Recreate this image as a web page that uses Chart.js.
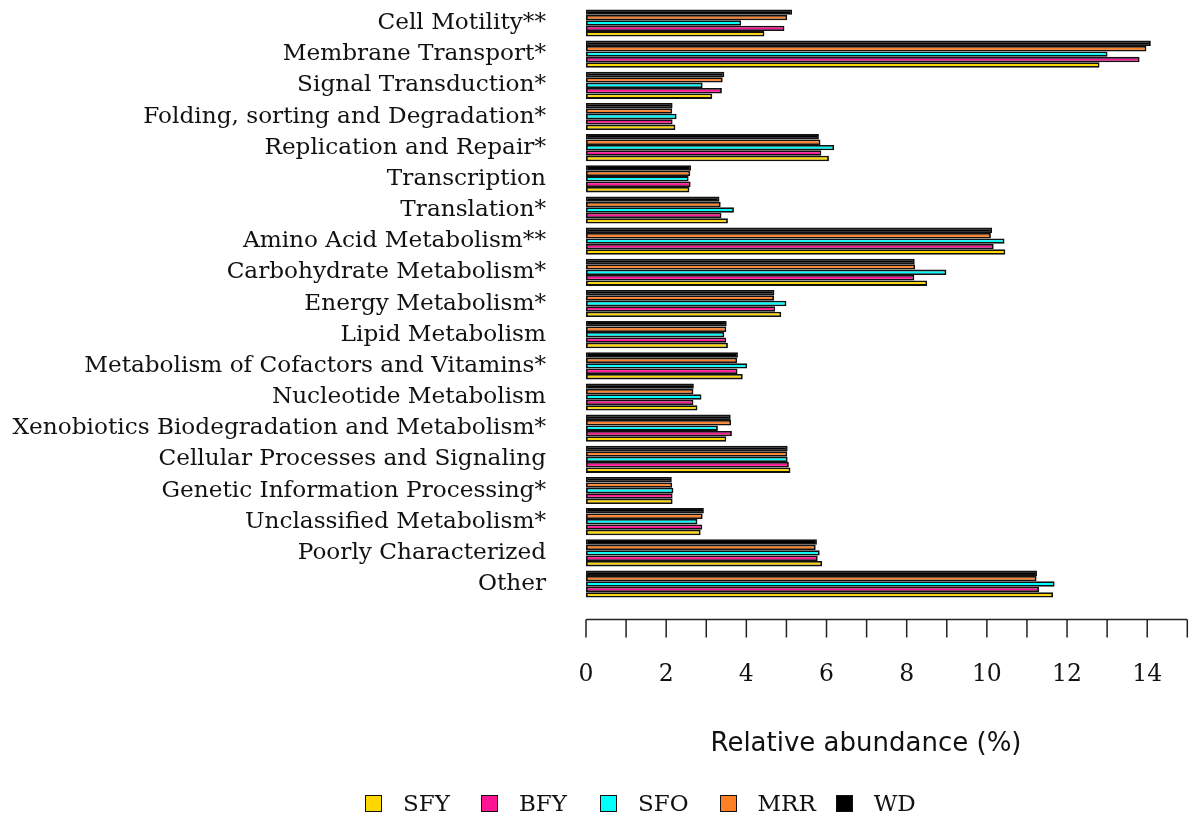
<!DOCTYPE html>
<html>
<head>
<meta charset="utf-8">
<script src="https://cdn.jsdelivr.net/npm/chart.js@4.4.1/dist/chart.umd.min.js"></script>
<style>
  html, body { margin: 0; padding: 0; background: #ffffff; }
  #wrap { position: relative; width: 1195px; height: 818px; }
  #chart { position: absolute; left: 0; top: 0; }
  #legend {
    position: absolute; left: 365px; top: 790px; height: 26px;
    display: flex; align-items: center;
    font-family: "DejaVu Serif", serif; font-size: 23px; color: #111;
  }
  .item { display: flex; align-items: center; margin-right: 31px; }
  .item:nth-child(2) { margin-right: 33px; }
  .item:nth-child(4) { margin-right: 20px; }
  .box { width: 15px; height: 15px; border: 1.5px solid #111; margin-right: 21px; }
</style>
</head>
<body>
<div id="wrap">
  <canvas id="chart" width="1195" height="818"></canvas>
  <div id="legend"></div>
</div>
<script>
// Functional categories, top to bottom
const categories = [
  'Cell Motility**',
  'Membrane Transport*',
  'Signal Transduction*',
  'Folding, sorting and Degradation*',
  'Replication and Repair*',
  'Transcription',
  'Translation*',
  'Amino Acid Metabolism**',
  'Carbohydrate Metabolism*',
  'Energy Metabolism*',
  'Lipid Metabolism',
  'Metabolism of Cofactors and Vitamins*',
  'Nucleotide Metabolism',
  'Xenobiotics Biodegradation and Metabolism*',
  'Cellular Processes and Signaling',
  'Genetic Information Processing*',
  'Unclassified Metabolism*',
  'Poorly Characterized',
  'Other'
];

// Relative abundance (%) per sample group
const SFY = [4.45, 12.81, 3.15, 2.23, 6.06, 2.58, 3.54, 10.46, 8.51, 4.87, 3.54, 3.91, 2.78, 3.50, 5.10, 2.16, 2.86, 5.89, 11.65];
const BFY = [4.95, 13.81, 3.39, 2.16, 5.87, 2.61, 3.38, 10.17, 8.19, 4.72, 3.50, 3.78, 2.68, 3.64, 5.06, 2.16, 2.90, 5.78, 11.30];
const SFO = [3.87, 13.01, 2.91, 2.26, 6.19, 2.56, 3.69, 10.44, 8.99, 5.00, 3.45, 4.02, 2.88, 3.29, 5.03, 2.18, 2.78, 5.83, 11.69];
const MRR = [5.02, 13.98, 3.41, 2.15, 5.85, 2.60, 3.36, 10.10, 8.21, 4.69, 3.50, 3.77, 2.68, 3.62, 5.02, 2.15, 2.91, 5.73, 11.24];
const WD  = [5.14, 14.09, 3.45, 2.16, 5.81, 2.62, 3.33, 10.13, 8.20, 4.70, 3.51, 3.79, 2.69, 3.61, 5.03, 2.14, 2.94, 5.76, 11.25];

// Axis range and labelled ticks
const xMin = 0;
const xMax = 15;
const xStep = 1;
const xLabelled = [0, 2, 4, 6, 8, 10, 12, 14];

const seriesNames = ['SFY', 'BFY', 'SFO', 'MRR', 'WD'];
const seriesData = [SFY, BFY, SFO, MRR, WD];
const seriesColors = ['#FFD700', '#FF1493', '#00FFFF', '#FF7F24', '#000000'];

// Within each group the first dataset sits on top, so WD goes first
const datasets = seriesNames.map((name, i) => ({
  label: name,
  data: seriesData[i],
  backgroundColor: seriesColors[i],
  borderColor: '#111111',
  borderWidth: 1.8,
  borderSkipped: false
})).reverse();

const serif = '"DejaVu Serif", serif';

// Detached bottom axis: a spine below the plot with a tick at every unit
const axisGap = 20;
const detachedAxis = {
  id: 'detachedAxis',
  afterDraw(chart) {
    const { ctx, chartArea, scales } = chart;
    const x = scales.x;
    const y0 = chartArea.bottom + axisGap;
    ctx.save();
    ctx.strokeStyle = '#222';
    ctx.lineWidth = 1.5;
    ctx.beginPath();
    ctx.moveTo(x.getPixelForValue(xMin), y0);
    ctx.lineTo(x.getPixelForValue(xMax), y0);
    for (let v = xMin; v <= xMax; v += xStep) {
      const px = x.getPixelForValue(v);
      ctx.moveTo(px, y0);
      ctx.lineTo(px, y0 + 18);
    }
    ctx.stroke();
    ctx.restore();
  }
};

const chart = new Chart(document.getElementById('chart'), {
  type: 'bar',
  data: { labels: categories, datasets },
  options: {
    indexAxis: 'y',
    responsive: false,
    animation: false,
    devicePixelRatio: 1,
    layout: { padding: { top: 7.4, right: 7.7, left: 0, bottom: 0 } },
    datasets: { bar: { categoryPercentage: 0.87, barPercentage: 1.0 } },
    scales: {
      y: {
        grid: { display: false, drawTicks: false },
        border: { display: false },
        ticks: {
          color: '#111',
          padding: 40,
          autoSkip: false,
          font: { family: serif, size: 23.2 }
        },
        afterFit(s) {
          s.width = 586;
          s.paddingTop = 0;
          s.paddingBottom = 0;
        }
      },
      x: {
        min: xMin,
        max: xMax,
        grid: { display: false, drawTicks: false },
        border: { display: false },
        ticks: {
          stepSize: xStep,
          autoSkip: false,
          maxRotation: 0,
          color: '#111',
          padding: 61,
          font: { family: serif, size: 23.5 },
          callback: (v) => xLabelled.includes(v) ? String(v) : ''
        },
        title: {
          display: true,
          text: 'Relative abundance (%)\u00a0\u00a0\u00a0\u00a0\u00a0',
          color: '#111',
          font: { family: '"DejaVu Sans", sans-serif', size: 26 },
          padding: { top: 0, bottom: 58 }
        },
        afterFit(s) {
          s.height = 218.4;
          s.paddingLeft = 0;
          s.paddingRight = 0;
        }
      }
    },
    plugins: {
      legend: { display: false },
      tooltip: { enabled: false }
    }
  },
  plugins: [detachedAxis]
});

// Legend in sample order, built from the chart's own datasets
const legendEl = document.getElementById('legend');
chart.data.datasets.slice().reverse().forEach(ds => {
  const item = document.createElement('div');
  item.className = 'item';
  const box = document.createElement('span');
  box.className = 'box';
  box.style.background = ds.backgroundColor;
  const txt = document.createElement('span');
  txt.textContent = ds.label;
  item.appendChild(box);
  item.appendChild(txt);
  legendEl.appendChild(item);
});
</script>
</body>
</html>
